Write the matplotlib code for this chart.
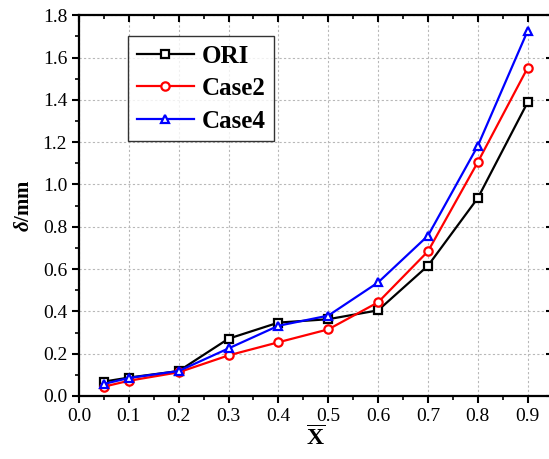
import matplotlib
matplotlib.use('Agg')
import matplotlib.pyplot as plt
from matplotlib.ticker import MultipleLocator

plt.rcParams['font.family'] = 'Liberation Serif'
plt.rcParams['mathtext.fontset'] = 'custom'
plt.rcParams['mathtext.rm'] = 'Liberation Serif'
plt.rcParams['mathtext.it'] = 'Liberation Serif:italic:bold'
plt.rcParams['mathtext.bf'] = 'Liberation Serif:bold'

x = [0.05, 0.1, 0.2, 0.3, 0.4, 0.5, 0.6, 0.7, 0.8, 0.9]
ori = [0.068, 0.087, 0.118, 0.271, 0.347, 0.363, 0.405, 0.616, 0.936, 1.389]
case2 = [0.044, 0.072, 0.112, 0.192, 0.254, 0.315, 0.443, 0.684, 1.106, 1.552]
case4 = [0.057, 0.085, 0.118, 0.225, 0.332, 0.380, 0.537, 0.758, 1.183, 1.727]
xticks = [0.0, 0.1, 0.2, 0.3, 0.4, 0.5, 0.6, 0.7, 0.8, 0.9]
yticks = [0.0, 0.2, 0.4, 0.6, 0.8, 1.0, 1.2, 1.4, 1.6, 1.8]

fig = plt.figure(figsize=(5.49, 4.59), dpi=100)
ax = fig.add_axes([0.1439, 0.1373, 0.8627, 0.8294])

style = dict(linewidth=1.6, markersize=6, markerfacecolor='white', markeredgewidth=1.6)
ax.plot(x, ori, color='black', marker='s', label='ORI', **style)
ax.plot(x, case2, color='red', marker='o', label='Case2', **style)
ax.plot(x, case4, color='blue', marker='^', label='Case4', **style)

ax.set_xlim(0, 0.95)
ax.set_ylim(0, 1.8)
ax.xaxis.set_minor_locator(MultipleLocator(0.05))
ax.yaxis.set_minor_locator(MultipleLocator(0.1))
ax.set_xticks(xticks)
ax.set_xticklabels([f'{v:.1f}' for v in xticks])
ax.set_yticks(yticks)
ax.set_yticklabels([f'{v:.1f}' for v in yticks])

ax.grid(True, which='major', linestyle=(0, (2, 2)), color='#b8b8b8', linewidth=0.8)
for s in ax.spines.values():
    s.set_linewidth(1.6)

ax.tick_params(axis='both', which='major', labelsize=14, direction='out', length=5, width=1.5)
ax.tick_params(axis='both', which='minor', direction='out', length=3, width=1.2)
ax.tick_params(top=True, right=True, which='both')
# mirror ticks on top and right point inward
for t in ax.xaxis.get_major_ticks() + ax.xaxis.get_minor_ticks():
    t.tick2line.set_marker(3)
for t in ax.yaxis.get_major_ticks() + ax.yaxis.get_minor_ticks():
    t.tick2line.set_marker(0)

ax.set_xlabel(r'$\overline{\mathbf{X}}$', fontsize=17, labelpad=1)
ax.set_ylabel(r'$\delta$/mm', fontsize=15, fontweight='bold', labelpad=6)

leg = ax.legend(loc='upper left', bbox_to_anchor=(0.103, 0.946),
                prop={'weight': 'bold', 'size': 18}, frameon=True, fancybox=False,
                handlelength=2.3, borderpad=0.35, labelspacing=0.38, handletextpad=0.3,
                borderaxespad=0)
leg.get_frame().set_edgecolor('black')
leg.get_frame().set_linewidth(1.0)

fig.savefig('out.png', dpi=100)
